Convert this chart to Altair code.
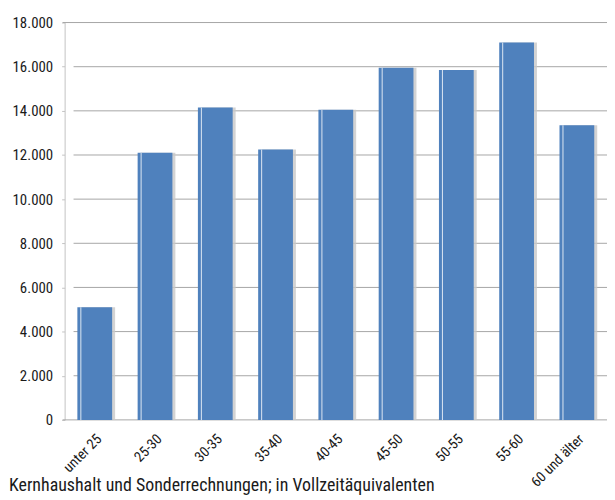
import altair as alt
import pandas as pd

categories = ["unter 25", "25-30", "30-35", "35-40", "40-45", "45-50", "50-55", "55-60", "60 und älter"]
values = [5100, 12100, 14150, 12250, 14050, 15950, 15850, 17100, 13350]
y_ticks = [0, 2000, 4000, 6000, 8000, 10000, 12000, 14000, 16000, 18000]
inner_grid = [2000, 4000, 6000, 8000, 10000, 12000, 14000, 16000]
outer_grid = [0, 18000]
caption = "Kernhaushalt und Sonderrechnungen; in Vollzeitäquivalenten"

df = pd.DataFrame({"Altersgruppe": categories, "Wert": values})
grid_df = pd.DataFrame({"Wert": inner_grid})
outer_df = pd.DataFrame({"Wert": outer_grid})
cap_df = pd.DataFrame({"t": [caption]})

W, H = 546, 400
FONT = "Liberation Sans Narrow, Roboto Condensed, Roboto, sans-serif"
BLUE = "#4f81bd"

yaxis = alt.Axis(
    values=y_ticks, title=None, grid=False,
    domainColor="#c4c4c4", tickColor="#c4c4c4", tickSize=3,
    labelPadding=9, labelFontSize=15, labelFont=FONT, labelColor="#1a1a1a",
    labelExpr="replace(format(datum.value, ','), ',', '.')",
)
yscale = alt.Scale(domain=[0, 18000], nice=False)
yenc = alt.Y("Wert:Q", scale=yscale, axis=yaxis)

xenc = alt.X(
    "Altersgruppe:N",
    sort=categories,
    scale=alt.Scale(paddingInner=0.42, paddingOuter=0.21),
    axis=alt.Axis(
        title=None, labelAngle=-45, ticks=False, domain=False,
        labelFontSize=14.5, labelFont=FONT, labelColor="#1a1a1a", labelPadding=12,
    ),
)

grid = alt.Chart(grid_df).mark_rule(color="#a6a6a6", strokeWidth=1).encode(
    y=yenc, x=alt.value(9), x2=alt.value(550),
)
outer = alt.Chart(outer_df).mark_rule(color="#a6a6a6", strokeWidth=1).encode(
    y=yenc, x=alt.value(-2), x2=alt.value(548),
)

shadow = alt.Chart(df).mark_bar(color="#c8c8c8", opacity=0.8, xOffset=3, size=35).encode(
    x=xenc, y=yenc, y2=alt.datum(0)
)
bars = alt.Chart(df).mark_bar(color=BLUE, size=35).encode(
    x=xenc, y=yenc, y2=alt.datum(0)
)
hl = alt.Chart(df).mark_bar(color="#dce6f2", size=1, xOffset=-14).encode(
    x=xenc, y=yenc, y2=alt.datum(0)
)

cap = alt.Chart(cap_df).mark_text(
    align="left", baseline="alphabetic", fontSize=18, font=FONT, color="#1a1a1a"
).encode(text="t:N", x=alt.value(-56), y=alt.value(472))

chart = alt.layer(grid, outer, shadow, bars, hl, cap).properties(
    width=W, height=H,
    autosize=alt.AutoSizeParams(type="none"),
    padding={"left": 57, "top": 13, "right": 0, "bottom": 77},
).configure_view(stroke=None)

chart.save("out.html", embed_options={"renderer": "svg", "actions": False})
